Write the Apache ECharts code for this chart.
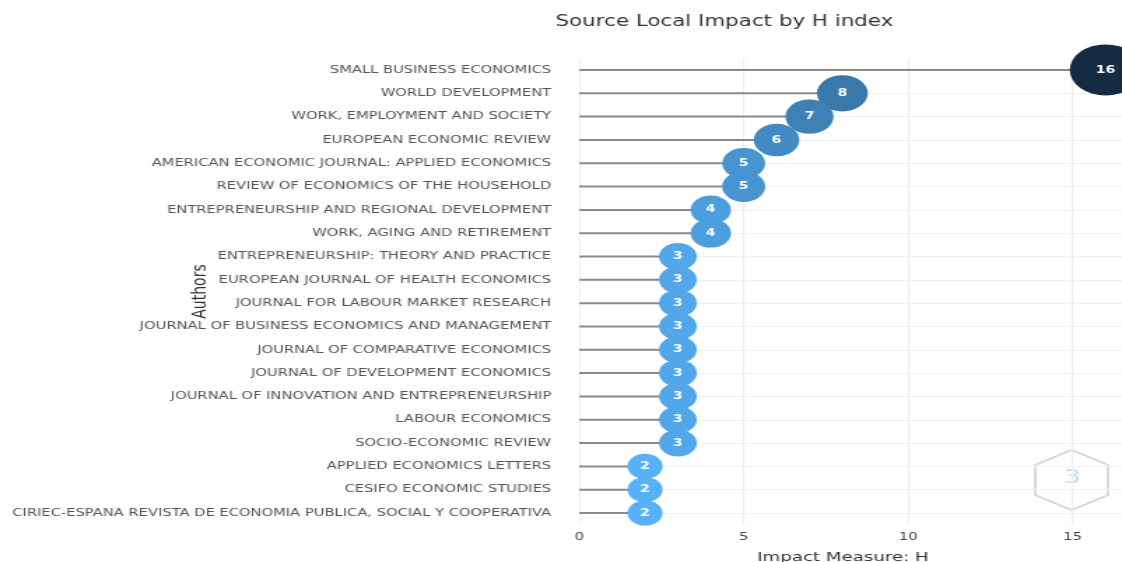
<!DOCTYPE html>
<html>
<head>
<meta charset="utf-8">
<script src="https://cdn.jsdelivr.net/npm/echarts@6/dist/echarts.min.js"></script>
<style>
html, body { margin: 0; padding: 0; background: #fff; overflow: hidden; }
/* the reference picture is stretched sideways, so the chart is drawn narrow and widened */
#main { width: 802px; height: 562px; transform: scaleX(1.399); transform-origin: 0 0; }
</style>
</head>
<body>
<div id="main"></div>
<script>
// sources, top to bottom
var sources = [
    'SMALL BUSINESS ECONOMICS',
    'WORLD DEVELOPMENT',
    'WORK, EMPLOYMENT AND SOCIETY',
    'EUROPEAN ECONOMIC REVIEW',
    'AMERICAN ECONOMIC JOURNAL: APPLIED ECONOMICS',
    'REVIEW OF ECONOMICS OF THE HOUSEHOLD',
    'ENTREPRENEURSHIP AND REGIONAL DEVELOPMENT',
    'WORK, AGING AND RETIREMENT',
    'ENTREPRENEURSHIP: THEORY AND PRACTICE',
    'EUROPEAN JOURNAL OF HEALTH ECONOMICS',
    'JOURNAL FOR LABOUR MARKET RESEARCH',
    'JOURNAL OF BUSINESS ECONOMICS AND MANAGEMENT',
    'JOURNAL OF COMPARATIVE ECONOMICS',
    'JOURNAL OF DEVELOPMENT ECONOMICS',
    'JOURNAL OF INNOVATION AND ENTREPRENEURSHIP',
    'LABOUR ECONOMICS',
    'SOCIO-ECONOMIC REVIEW',
    'APPLIED ECONOMICS LETTERS',
    'CESIFO ECONOMIC STUDIES',
    'CIRIEC-ESPANA REVISTA DE ECONOMIA PUBLICA, SOCIAL Y COOPERATIVA'
];
var hIndex = [16, 8, 7, 6, 5, 5, 4, 4, 3, 3, 3, 3, 3, 3, 3, 3, 3, 2, 2, 2];
var xTicks = [0, 5, 10, 15];

var font = 'DejaVu Sans';
var myChart = echarts.init(document.getElementById('main'));

var points = sources.map(function (s, i) {
    return [hIndex[i], s];
});

option = {
    animation: false,
    backgroundColor: '#fff',
    title: {
        text: 'Source Local Impact by H index',
        left: 397,
        top: 15,
        padding: 0,
        textStyle: { fontFamily: font, fontSize: 15.3, fontWeight: 'normal', color: '#333' }
    },
    visualMap: {
        show: false,
        type: 'continuous',
        min: 2,
        max: 16,
        dimension: 0,
        seriesIndex: 1,
        inRange: { color: ['#56B1F7', '#132B43'] }
    },
    grid: { left: 414, right: 0, top: 58.3, bottom: 37.3, containLabel: false, outerBoundsMode: 'none' },
    xAxis: {
        type: 'value',
        min: 0,
        max: 16.5,
        interval: 5,
        name: 'Impact Measure: H',
        nameLocation: 'middle',
        nameGap: 26,
        nameMoveOverlap: false,
        nameTextStyle: { fontFamily: font, fontSize: 13, color: '#333', padding: [0, 11, 0, 0] },
        axisLine: { show: false },
        axisTick: { show: false },
        axisLabel: {
            showMaxLabel: false,
            margin: 7,
            fontFamily: font,
            fontSize: 10.5,
            color: '#444',
            formatter: function (v) { return xTicks.indexOf(v) >= 0 ? String(v) : ''; }
        },
        splitLine: { show: true, lineStyle: { color: '#eeeeee', width: 1 } }
    },
    yAxis: {
        type: 'category',
        data: sources,
        inverse: true,
        name: 'Authors',
        nameLocation: 'middle',
        nameGap: 264,
        nameRotate: 90,
        nameMoveOverlap: false,
        nameTextStyle: { fontFamily: font, fontSize: 14, color: '#333' },
        axisLine: { show: false },
        axisTick: { show: false },
        axisLabel: { margin: 20, fontFamily: font, fontSize: 10.5, color: '#555', interval: 0 },
        splitLine: { show: true, alignWithLabel: true, lineStyle: { color: '#f0f0f0', width: 1 } }
    },
    graphic: [{
        type: 'polygon',
        silent: true,
        shape: { points: [[766, 450], [792, 465], [792, 495], [766, 510], [740, 495], [740, 465]] },
        style: { fill: 'none', stroke: '#d8d8d8', lineWidth: 2 }
    }, {
        type: 'text',
        silent: true,
        left: 760, top: 468,
        style: { text: '3', fontFamily: font, fontSize: 20, fill: 'rgba(110,185,240,0.45)' }
    }],
    series: [
        {
            name: 'stem',
            type: 'bar',
            data: hIndex,
            barWidth: 2,
            silent: true,
            itemStyle: { color: '#8a8a8a' },
            z: 2
        },
        {
            name: 'H index',
            type: 'scatter',
            data: points,
            z: 3,
            symbolSize: function (v) { return 21.4 + 1.86 * v[0]; },
            label: {
                show: true,
                position: 'inside',
                formatter: function (p) { return p.value[0]; },
                fontFamily: font,
                fontSize: 10,
                fontWeight: 'bold',
                color: '#fff'
            },
            itemStyle: { opacity: 1 }
        }
    ]
};

myChart.setOption(option);
</script>
</body>
</html>
